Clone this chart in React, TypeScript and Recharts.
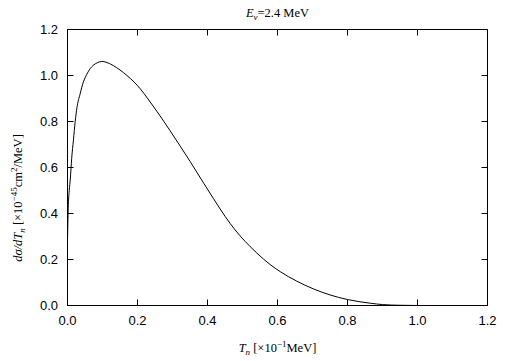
import {LineChart, Line, XAxis, YAxis, Label} from 'recharts';

// T_n [x10^-1 MeV]
const energy = [
	0, 0.002, 0.005, 0.008, 0.012, 0.017, 0.022, 0.027, 0.036, 0.045, 0.055,
	0.065, 0.074, 0.086, 0.098, 0.11, 0.12, 0.131, 0.15, 0.17, 0.19, 0.208,
	0.23, 0.255, 0.275, 0.293, 0.322, 0.35, 0.389, 0.417, 0.436, 0.465, 0.493,
	0.522, 0.541, 0.579, 0.608, 0.655, 0.703, 0.75, 0.8, 0.865, 0.9, 0.95, 1.0,
];

// dσ/dT_n [x10^-45 cm^2/MeV]
const crossSection = [
	0.28, 0.42, 0.5, 0.55, 0.64, 0.72, 0.8, 0.86, 0.92, 0.97, 1.005, 1.03,
	1.045, 1.056, 1.061, 1.058, 1.052, 1.043, 1.024, 1.0, 0.972, 0.942, 0.898,
	0.845, 0.801, 0.76, 0.693, 0.627, 0.532, 0.465, 0.42, 0.356, 0.303, 0.256,
	0.228, 0.178, 0.147, 0.106, 0.072, 0.046, 0.026, 0.01, 0.004, 0.001, 0,
];

const axisTicks = [0, 0.2, 0.4, 0.6, 0.8, 1.0, 1.2];

const data = energy.map((t, i) => ({t, v: crossSection[i]}));

const AXIS_MAX = 1.2;
const W = 505;
const H = 361;
// plot box, shared by the chart margins and the tick overlay
const PLOT = {left: 67.5, top: 29.5, right: 487.5, bottom: 305.5};
const TICK = 6;

const sx = (t: number) => PLOT.left + (t / AXIS_MAX) * (PLOT.right - PLOT.left);
const sy = (v: number) => PLOT.bottom - (v / AXIS_MAX) * (PLOT.bottom - PLOT.top);

const serif = 'Liberation Serif';
const sans = 'Liberation Sans';

type TickProps = {x: number; y: number; payload: {value: number}};
type Box = {x: number; y: number; width: number; height: number};

const label = (v: number) => v.toFixed(1);

function BottomTick({x, y, payload}: TickProps) {
	return (
		<text x={x} y={y + 10} dy="0.71em" textAnchor="middle" fontFamily={sans} fontSize={13} fill="#000">
			{label(payload.value)}
		</text>
	);
}

function LeftTick({x, y, payload}: TickProps) {
	return (
		<text x={x - 9.5} y={y} dy="0.355em" textAnchor="end" fontFamily={sans} fontSize={13} fill="#000">
			{label(payload.value)}
		</text>
	);
}

function TitleLabel({viewBox}: {viewBox: Box}) {
	return (
		<text x={viewBox.x + viewBox.width / 2} y={viewBox.y - 11.5} textAnchor="middle" fontFamily={serif} fontSize={12.5}>
			<tspan fontStyle="italic">E</tspan>
			<tspan fontStyle="italic" fontSize={9} dy={3}>ν</tspan>
			<tspan dy={-3}>=2.4 MeV</tspan>
		</text>
	);
}

function XTitle({viewBox}: {viewBox: Box}) {
	return (
		<text x={viewBox.x + viewBox.width / 2} y={viewBox.y + 46.5} textAnchor="middle" fontFamily={serif} fontSize={12.5}>
			<tspan fontStyle="italic">T</tspan>
			<tspan fontStyle="italic" fontSize={9} dy={3}>n</tspan>
			<tspan dy={-3}> [×10</tspan>
			<tspan fontSize={9} dy={-5}>−1</tspan>
			<tspan dy={5}>MeV]</tspan>
		</text>
	);
}

function YTitle({viewBox}: {viewBox: Box}) {
	const cy = viewBox.y + viewBox.height / 2 + 30.5;
	return (
		<text transform={`translate(22,${cy}) rotate(-90)`} textAnchor="middle" fontFamily={serif} fontSize={12.5}>
			<tspan fontStyle="italic">dσ/dT</tspan>
			<tspan fontStyle="italic" fontSize={9} dy={3}>n</tspan>
			<tspan dy={-3}> [×10</tspan>
			<tspan fontSize={9} dy={-5}>−45</tspan>
			<tspan dy={5}>cm</tspan>
			<tspan fontSize={9} dy={-5}>2</tspan>
			<tspan dy={5}>/MeV]</tspan>
		</text>
	);
}

// gnuplot style inward tick marks on all four sides
function TickOverlay() {
	return (
		<svg width={W} height={H} style={{position: 'absolute', left: 0, top: 0, pointerEvents: 'none'}}>
			<g stroke="#000" strokeWidth={1}>
				{axisTicks.map(t => (
					<g key={`x${t}`}>
						<line x1={sx(t)} y1={PLOT.bottom} x2={sx(t)} y2={PLOT.bottom - TICK} />
						<line x1={sx(t)} y1={PLOT.top} x2={sx(t)} y2={PLOT.top + TICK} />
					</g>
				))}
				{axisTicks.map(v => (
					<g key={`y${v}`}>
						<line x1={PLOT.left} y1={sy(v)} x2={PLOT.left + TICK} y2={sy(v)} />
						<line x1={PLOT.right} y1={sy(v)} x2={PLOT.right - TICK} y2={sy(v)} />
					</g>
				))}
			</g>
		</svg>
	);
}

export default function App() {
	return (
		<div style={{position: 'absolute', left: 0, top: 0, width: W, height: H, background: '#fff'}}>
			<LineChart
				width={W}
				height={H}
				data={data}
				margin={{top: PLOT.top - 1, right: W - PLOT.right - 1, bottom: 0, left: 0}}
			>
				<XAxis
					dataKey="t"
					type="number"
					domain={[0, AXIS_MAX]}
					ticks={axisTicks}
					interval={0}
					height={H - PLOT.bottom}
					stroke="#000"
					tick={BottomTick}
					tickLine={false}
					tickSize={0}
					tickMargin={0}
					allowDataOverflow
				>
					<Label content={XTitle as any} />
				</XAxis>
				<XAxis
					xAxisId="top"
					dataKey="t"
					orientation="top"
					type="number"
					domain={[0, AXIS_MAX]}
					ticks={axisTicks}
					height={1}
					stroke="#000"
					tick={false}
					tickLine={false}
					allowDataOverflow
				>
					<Label content={TitleLabel as any} />
				</XAxis>
				<YAxis
					dataKey="v"
					type="number"
					domain={[0, AXIS_MAX]}
					ticks={axisTicks}
					interval={0}
					width={PLOT.left}
					stroke="#000"
					tick={LeftTick}
					tickLine={false}
					tickSize={0}
					tickMargin={0}
					allowDataOverflow
				>
					<Label content={YTitle as any} />
				</YAxis>
				<YAxis
					yAxisId="right"
					dataKey="v"
					orientation="right"
					type="number"
					domain={[0, AXIS_MAX]}
					ticks={axisTicks}
					width={1}
					stroke="#000"
					tick={false}
					tickLine={false}
					allowDataOverflow
				/>
				<Line dataKey="v" type="monotone" stroke="#000" strokeWidth={1} dot={false} isAnimationActive={false} />
			</LineChart>
			<TickOverlay />
		</div>
	);
}
